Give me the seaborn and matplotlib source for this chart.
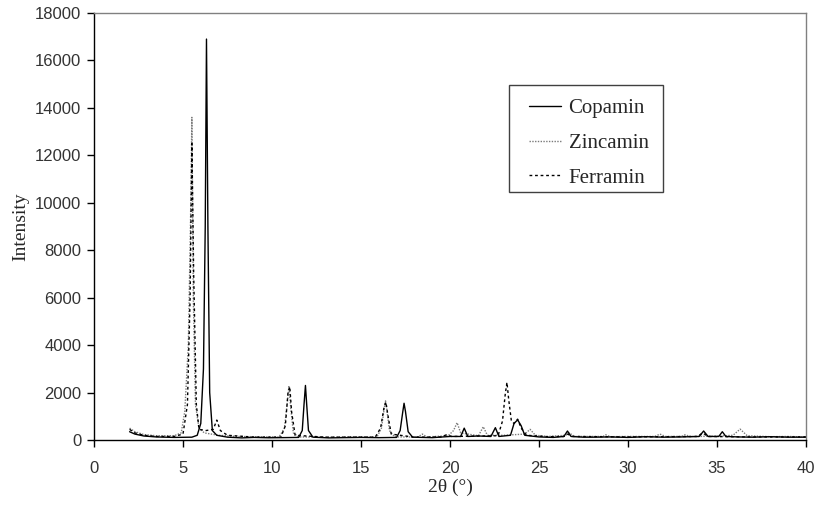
import matplotlib
matplotlib.use("Agg")
import matplotlib.pyplot as plt
from matplotlib.patches import Rectangle
import seaborn as sns
import pandas as pd

# XRD patterns: vertices (2-theta in degrees, intensity in counts)
copamin_x = [2.0, 2.3, 2.8, 3.5, 4.5, 5.5, 5.8, 6.0, 6.15, 6.25, 6.32, 6.4, 6.5, 6.65, 6.9,
             7.5, 8.3, 9.0, 9.8, 10.5, 11.5, 11.7, 11.8, 11.88, 11.95, 12.05, 12.3, 13.2, 14.0,
             15.0, 16.0, 17.0, 17.2, 17.35, 17.42, 17.5, 17.65, 17.9, 19.0, 20.0, 20.6, 20.8,
             21.0, 21.6, 22.3, 22.55, 22.75, 23.4, 23.6, 23.8, 24.0, 24.2, 25.0, 25.8, 26.4,
             26.6, 26.8, 27.5, 28.0, 29.0, 30.0, 31.0, 32.0, 33.0, 34.0, 34.25, 34.5, 35.1,
             35.3, 35.5, 36.2, 37.0, 38.0, 39.0, 40.0]
copamin_y = [350, 250, 170, 130, 110, 120, 200, 700, 3000, 9000, 16900, 9000, 2000, 400, 200,
             120, 90, 110, 95, 100, 110, 400, 1500, 2300, 1500, 400, 120, 90, 100,
             110, 100, 110, 400, 1200, 1550, 1200, 350, 120, 100, 150, 150, 500,
             150, 170, 150, 520, 150, 200, 700, 850, 600, 200, 130, 110, 150,
             380, 150, 120, 120, 130, 110, 140, 120, 130, 150, 380, 150, 150,
             350, 150, 130, 120, 140, 120, 120]

zincamin_x = [2.0, 2.3, 2.8, 3.5, 4.5, 4.9, 5.1, 5.3, 5.42, 5.5, 5.58, 5.7, 5.9, 6.2, 7.0,
              8.0, 9.0, 10.4, 10.7, 10.85, 10.95, 11.05, 11.2, 11.5, 13.0, 14.5, 15.9, 16.15,
              16.3, 16.38, 16.45, 16.6, 16.9, 18.2, 18.45, 18.7, 19.9, 20.2, 20.4, 20.6, 21.6,
              21.87, 22.1, 23.0, 24.2, 24.5, 24.8, 25.5, 26.5, 26.7, 27.0, 28.6, 28.75, 29.0,
              30.0, 31.5, 31.8, 32.1, 33.0, 33.2, 33.5, 35.0, 35.9, 36.3, 36.7, 38.0, 39.0, 40.0]
zincamin_y = [500, 350, 230, 180, 180, 300, 1200, 4000, 9000, 13600, 6000, 1500, 500, 300, 200,
              150, 140, 130, 500, 1500, 2250, 1400, 300, 130, 120, 140, 130, 500,
              1300, 1650, 1300, 400, 130, 130, 250, 130, 180, 400, 730, 300, 180,
              560, 200, 200, 250, 450, 200, 150, 200, 300, 150, 150, 220, 140,
              150, 150, 250, 150, 150, 220, 150, 160, 200, 460, 180, 140, 150, 130]

ferramin_x = [2.0, 2.3, 2.8, 3.5, 4.5, 5.0, 5.25, 5.4, 5.5, 5.6, 5.75, 5.9, 6.3, 6.7, 6.9,
              7.1, 7.5, 9.0, 10.5, 10.75, 10.9, 11.0, 11.1, 11.3, 13.0, 15.8, 16.1, 16.3,
              16.4, 16.5, 16.7, 18.0, 19.5, 19.8, 20.1, 22.7, 22.95, 23.1, 23.2, 23.3, 23.45,
              23.6, 23.8, 24.0, 24.3, 25.5, 26.4, 26.6, 26.9, 30.0, 33.9, 34.2, 34.5, 37.0, 40.0]
ferramin_y = [450, 300, 200, 150, 150, 250, 1500, 6000, 12500, 7000, 1500, 450, 400, 450, 840,
              400, 200, 120, 120, 600, 2000, 2250, 1200, 200, 120, 120, 500, 1400,
              1600, 1100, 250, 120, 130, 220, 150, 180, 800, 1900, 2430, 1700, 800,
              700, 880, 500, 200, 140, 150, 250, 150, 130, 150, 300, 150, 130, 130]

series_names = ["Copamin", "Zincamin", "Ferramin"]
x_ticks = [0, 5, 10, 15, 20, 25, 30, 35, 40]
y_ticks = [0, 2000, 4000, 6000, 8000, 10000, 12000, 14000, 16000, 18000]

frames = []
for name, xs, ys in zip(series_names,
                        [copamin_x, zincamin_x, ferramin_x],
                        [copamin_y, zincamin_y, ferramin_y]):
    frames.append(pd.DataFrame({"two_theta": xs, "intensity": ys, "sample": name}))
df = pd.concat(frames, ignore_index=True)

sns.set_style("white")
plt.rcParams["font.family"] = ["Liberation Sans", "DejaVu Sans"]

fig = plt.figure(figsize=(8.18, 5.07), dpi=100)
ax = fig.add_axes([0.1149, 0.1321, 0.8704, 0.8423])

styles = {
    "Copamin": dict(color="black", linestyle="-", linewidth=1.0),
    "Zincamin": dict(color="#7a7a7a", linestyle=(0, (1, 1)), linewidth=1.0),
    "Ferramin": dict(color="black", linestyle=(0, (2, 2)), linewidth=1.0),
}
# draw the later series first so the solid trace sits on top
for name in ["Zincamin", "Ferramin", "Copamin"]:
    sub = df[df["sample"] == name]
    sns.lineplot(data=sub, x="two_theta", y="intensity", ax=ax, sort=False,
                 estimator=None, label=name, **styles[name])

ax.set_xlim(0, 40)
ax.set_ylim(0, 18000)
ax.set_xticks(x_ticks)
ax.set_yticks(y_ticks)
ax.tick_params(axis="both", direction="out", length=5, width=1, color="black",
               labelsize=12, labelcolor="#333333", pad=4, bottom=True, left=True)
ax.tick_params(axis="x", pad=10)

for side in ["left", "bottom"]:
    ax.spines[side].set_color("black")
    ax.spines[side].set_linewidth(1.0)
for side in ["top", "right"]:
    ax.spines[side].set_color("#808080")
    ax.spines[side].set_linewidth(1.0)

serif = ["Liberation Serif", "DejaVu Serif"]
ax.set_xlabel("2θ (°)", fontsize=14, family=serif, labelpad=2)
ax.set_ylabel("Intensity", fontsize=14, family=serif, labelpad=4)

# legend entries without their own frame; the box is drawn separately
handles, labels = ax.get_legend_handles_labels()
order = [labels.index(n) for n in series_names]
leg = ax.legend([handles[i] for i in order], [labels[i] for i in order],
                loc="upper left", bbox_to_anchor=(0.611, 0.799),
                prop={"family": serif, "size": 15}, frameon=False,
                handlelength=1.55, borderpad=0, borderaxespad=0,
                labelspacing=0.72, handletextpad=0.35)
ax.add_patch(Rectangle((0.583, 0.581), 0.2163, 0.2506, transform=ax.transAxes,
                       facecolor="white", edgecolor="#404040", linewidth=1.0,
                       zorder=4))
leg.set_zorder(5)

fig.savefig("out.png", dpi=100)
